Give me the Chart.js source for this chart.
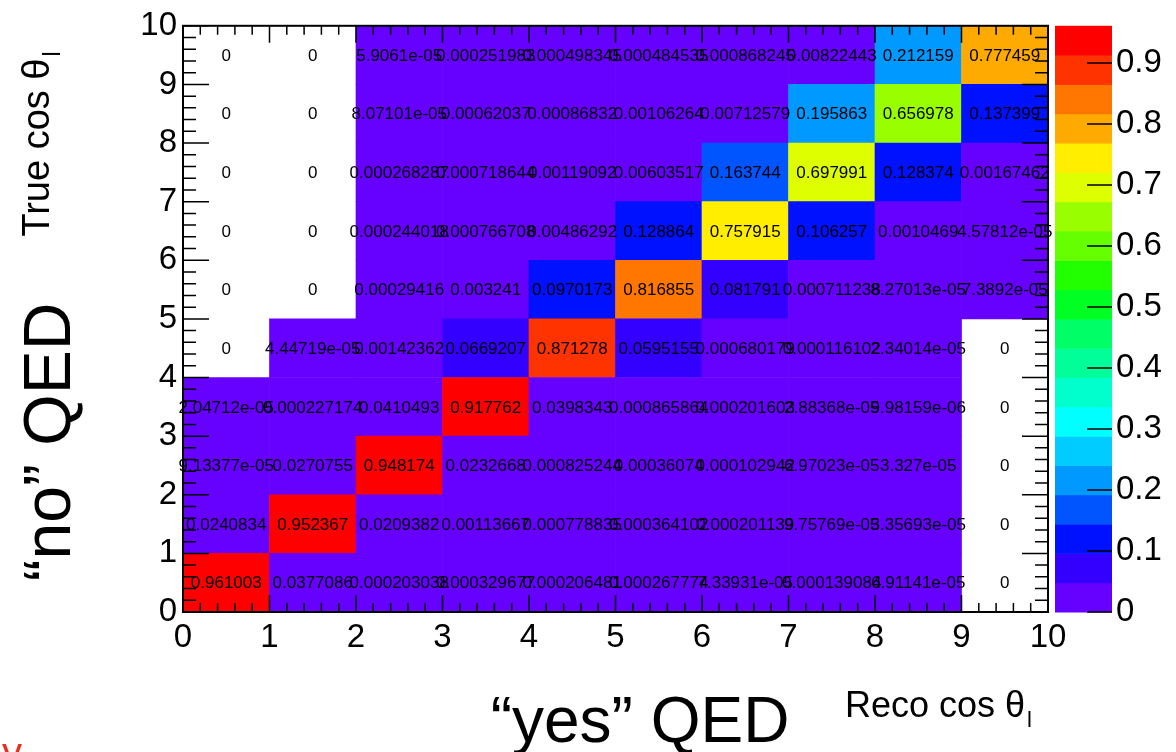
<!DOCTYPE html>
<html>
<head>
<meta charset="utf-8">
<script src="https://cdn.jsdelivr.net/npm/chart.js@4.4.1/dist/chart.umd.min.js"></script>
<style>
  html, body { margin: 0; padding: 0; background: #fff; }
  #wrap { width: 1176px; height: 752px; }
</style>
</head>
<body>
<div id="wrap"><canvas id="migration" width="1176" height="752"></canvas></div>
<script>
// reco cos theta_l bins (x) and true cos theta_l bins (y)
const recoBins = ['0', '1', '2', '3', '4', '5', '6', '7', '8', '9'];
const trueBins = [0, 1, 2, 3, 4, 5, 6, 7, 8, 9];
const axisTicks = [0, 1, 2, 3, 4, 5, 6, 7, 8, 9, 10];
const zTicks = [0, 0.1, 0.2, 0.3, 0.4, 0.5, 0.6, 0.7, 0.8, 0.9];

// bin contents, one array per true bin, reco bins 0..9 left to right
const true0 = [0.961003, 0.0377086, 0.000203038, 0.000329677, 0.000206481, 0.000267774, 7.33931e-05, 0.000139084, 6.91141e-05, 0];
const true1 = [0.0240834, 0.952367, 0.0209382, 0.00113667, 0.000778835, 0.000364102, 0.000201139, 9.75769e-05, 3.35693e-05, 0];
const true2 = [9.13377e-05, 0.0270755, 0.948174, 0.0232668, 0.000825244, 0.00036074, 0.000102942, 6.97023e-05, 3.327e-05, 0];
const true3 = [2.04712e-05, 0.000227174, 0.0410493, 0.917762, 0.0398343, 0.000865864, 0.000201603, 2.88368e-05, 9.98159e-06, 0];
const true4 = [0, 4.44719e-05, 0.00142362, 0.0669207, 0.871278, 0.0595155, 0.000680179, 0.000116102, 2.34014e-05, 0];
const true5 = [0, 0, 0.00029416, 0.003241, 0.0970173, 0.816855, 0.081791, 0.000711238, 8.27013e-05, 7.3892e-05];
const true6 = [0, 0, 0.000244018, 0.000766708, 0.00486292, 0.128864, 0.757915, 0.106257, 0.0010469, 4.57812e-05];
const true7 = [0, 0, 0.000268287, 0.000718644, 0.00119092, 0.00603517, 0.163744, 0.697991, 0.128374, 0.00167462];
const true8 = [0, 0, 8.07101e-05, 0.00062037, 0.00086832, 0.00106264, 0.00712579, 0.195863, 0.656978, 0.137399];
const true9 = [0, 0, 5.9061e-05, 0.000251983, 0.000498345, 0.000484535, 0.000868245, 0.00822443, 0.212159, 0.777459];

const rows = [true0, true1, true2, true3, true4, true5, true6, true7, true8, true9];

// 20 contour colours, lowest first
const palette = [
  '#6600ff', '#3300ff', '#0011ff', '#0055ff', '#0099ff',
  '#00ccff', '#00ffff', '#00ffcc', '#00ff99', '#00ff66',
  '#00ff22', '#22ff00', '#66ff00', '#99ff00', '#ddff00',
  '#ffee00', '#ffaa00', '#ff7700', '#ff3300', '#ff0000'
];

const zMax = Math.max(...rows.flat());
const FONT = '"Liberation Sans", Arial, sans-serif';

function cellColour(v) {
  if (v <= 0) return 'rgba(0,0,0,0)';
  const idx = Math.min(palette.length - 1, Math.floor(v / zMax * palette.length));
  return palette[idx];
}

// printf %g style, like ROOT's TEXT option
function fmtG(v) {
  if (v === 0) return '0';
  const e = Math.floor(Math.log10(Math.abs(v)));
  if (e < -4 || e >= 6) {
    let [m, ex] = v.toExponential(5).split('e');
    if (m.indexOf('.') >= 0) m = m.replace(/0+$/, '').replace(/\.$/, '');
    const sign = ex[0] === '-' ? '-' : '+';
    let d = ex.replace(/^[+-]/, '');
    if (d.length < 2) d = '0' + d;
    return m + 'e' + sign + d;
  }
  return String(parseFloat(v.toPrecision(6)));
}

const datasets = rows.map((vals, r) => ({
  label: 'true ' + r,
  data: vals.map(() => [trueBins[r], trueBins[r] + 1]),
  backgroundColor: vals.map(cellColour),
  borderWidth: 0,
  xAxisID: 'xc',
  yAxisID: 'y',
  grouped: false,
  barPercentage: 1,
  categoryPercentage: 1,
  binValues: vals
}));

const cellText = {
  id: 'cellText',
  afterDatasetsDraw(chart) {
    const ctx = chart.ctx;
    ctx.save();
    ctx.font = '17px ' + FONT;
    ctx.fillStyle = '#000';
    ctx.textAlign = 'center';
    ctx.textBaseline = 'middle';
    chart.data.datasets.forEach((ds, r) => {
      chart.getDatasetMeta(r).data.forEach((bar, c) => {
        const cy = (bar.y + bar.base) / 2;
        ctx.fillText(fmtG(ds.binValues[c]), bar.x, cy + 1);
      });
    });
    ctx.restore();
  }
};

const frameTicks = {
  id: 'frameTicks',
  afterDraw(chart) {
    const ctx = chart.ctx;
    const a = chart.chartArea;
    const sx = chart.scales.x, sy = chart.scales.y;
    ctx.save();
    ctx.strokeStyle = '#000';
    ctx.lineWidth = 1.5;
    ctx.beginPath();
    for (let i = 0; i <= 50; i++) {
      const v = i / 5;
      const px = sx.getPixelForValue(v);
      const len = i % 5 === 0 ? 17 : 9;
      ctx.moveTo(px, a.bottom); ctx.lineTo(px, a.bottom - len);
      ctx.moveTo(px, a.top); ctx.lineTo(px, a.top + len);
      const py = sy.getPixelForValue(v);
      const ly = i % 5 === 0 ? 26 : 13;
      ctx.moveTo(a.left, py); ctx.lineTo(a.left + ly, py);
      ctx.moveTo(a.right, py); ctx.lineTo(a.right - ly, py);
    }
    ctx.stroke();
    ctx.lineWidth = 2;
    ctx.strokeRect(a.left, a.top, a.right - a.left, a.bottom - a.top);
    ctx.restore();
  }
};

const colourBar = {
  id: 'colourBar',
  afterDraw(chart) {
    const ctx = chart.ctx;
    const a = chart.chartArea;
    const sz = chart.scales.z;
    const x0 = a.right + 7, x1 = a.right + 64;
    ctx.save();
    palette.forEach((col, i) => {
      const yLo = sz.getPixelForValue(zMax * i / palette.length);
      const yHi = sz.getPixelForValue(zMax * (i + 1) / palette.length);
      ctx.fillStyle = col;
      ctx.fillRect(x0, yHi, x1 - x0, yLo - yHi + 0.5);
    });
    ctx.strokeStyle = '#000';
    ctx.lineWidth = 1.5;
    ctx.beginPath();
    zTicks.forEach(v => {
      const py = sz.getPixelForValue(v);
      ctx.moveTo(x1, py); ctx.lineTo(x1 - 25, py);
    });
    ctx.stroke();
    ctx.restore();
  }
};

function thetaLabel(ctx, text, size) {
  ctx.font = size + 'px ' + FONT;
  const w = ctx.measureText(text).width;
  const sub = Math.round(size * 0.6);
  ctx.font = sub + 'px ' + FONT;
  const ws = ctx.measureText('l').width;
  return { w, sub, total: w + 2 + ws };
}

function drawTheta(ctx, text, x, y, size) {
  const m = thetaLabel(ctx, text, size);
  ctx.font = size + 'px ' + FONT;
  ctx.fillText(text, x, y);
  ctx.font = m.sub + 'px ' + FONT;
  ctx.fillText('l', x + m.w + 2, y + size * 0.28);
  return m.total;
}

const titles = {
  id: 'titles',
  afterDraw(chart) {
    const ctx = chart.ctx;
    ctx.save();
    ctx.fillStyle = '#000';
    ctx.textBaseline = 'alphabetic';
    ctx.textAlign = 'left';

    // x titles
    ctx.font = '64px ' + FONT;
    ctx.textAlign = 'center';
    ctx.fillText('\u201cyes\u201d QED', 640, 742);
    ctx.textAlign = 'left';
    drawTheta(ctx, 'Reco cos \u03b8', 845, 717, 36);

    // y titles, rotated
    ctx.save();
    ctx.translate(49, 144);
    ctx.rotate(-Math.PI / 2);
    const m = thetaLabel(ctx, 'True cos \u03b8', 38);
    drawTheta(ctx, 'True cos \u03b8', -m.total / 2, 0, 38);
    ctx.restore();

    ctx.save();
    ctx.translate(70, 442);
    ctx.rotate(-Math.PI / 2);
    ctx.font = '66px ' + FONT;
    ctx.textAlign = 'center';
    ctx.fillText('\u201cno\u201d QED', 0, 0);
    ctx.restore();

    // cut-off red text at the bottom-left corner
    ctx.fillStyle = '#e8301c';
    ctx.font = '40px ' + FONT;
    ctx.fillText('y', 2, 766);
    ctx.restore();
  }
};

const tickFont = { family: FONT, size: 33 };
const fixTicks = list => scale => { scale.ticks = list.map(v => ({ value: v })); };

const ctx = document.getElementById('migration').getContext('2d');
new Chart(ctx, {
  type: 'bar',
  data: { labels: recoBins, datasets: datasets },
  options: {
    responsive: false,
    animation: false,
    devicePixelRatio: 1,
    layout: { padding: { top: 25, left: 0, right: 0, bottom: 0 } },
    plugins: { legend: { display: false }, tooltip: { enabled: false } },
    scales: {
      xc: { type: 'category', display: false, offset: true },
      x: {
        type: 'linear', position: 'bottom', min: 0, max: 10, offset: false,
        afterBuildTicks: fixTicks(axisTicks),
        grid: { display: false, drawTicks: false, offset: false },
        border: { display: false },
        ticks: { font: tickFont, color: '#000', padding: 6, maxRotation: 0, autoSkip: false },
        afterFit: s => { s.height = 140; }
      },
      y: {
        type: 'linear', position: 'left', min: 0, max: 10, offset: false,
        afterBuildTicks: fixTicks(axisTicks),
        grid: { display: false, drawTicks: false },
        border: { display: false },
        ticks: { font: tickFont, color: '#000', padding: 6, autoSkip: false },
        afterFit: s => { s.width = 183; }
      },
      z: {
        type: 'linear', position: 'right', min: 0, max: zMax, offset: false,
        afterBuildTicks: fixTicks(zTicks),
        // the invisible tick marks push the labels past the colour bar
        grid: { display: true, drawOnChartArea: false, drawTicks: true, tickLength: 64, color: 'rgba(0,0,0,0)' },
        border: { display: false },
        ticks: { font: tickFont, color: '#000', padding: 4, autoSkip: false,
                 callback: v => String(Math.round(v * 10) / 10) },
        afterFit: s => { s.width = 128; }
      }
    }
  },
  plugins: [cellText, frameTicks, colourBar, titles]
});
</script>
</body>
</html>
